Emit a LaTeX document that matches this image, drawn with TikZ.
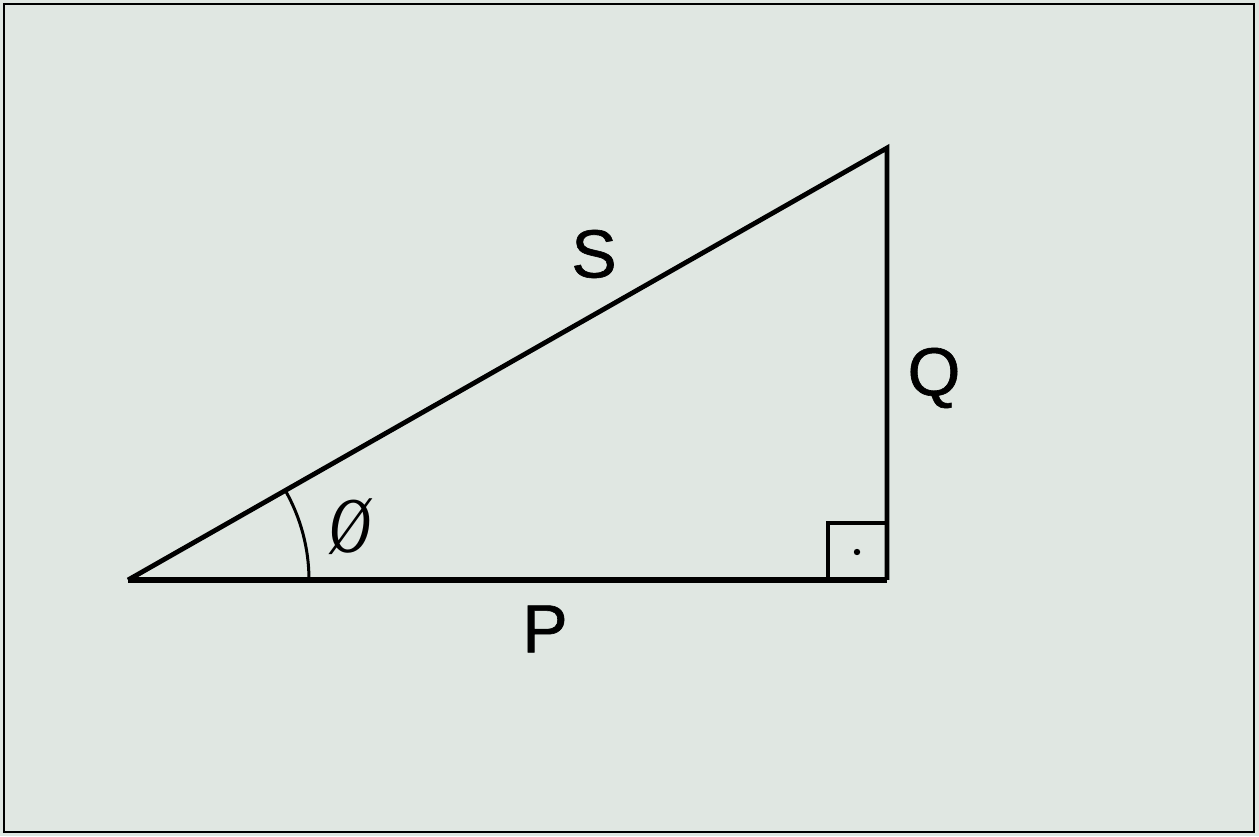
\documentclass[tikz,border=0pt]{standalone}
\usepackage{fontspec}
\setmainfont{Liberation Sans}
\newfontfamily\labelfont{Liberation Sans}[FakeBold=0.9]
\newfontfamily\phifont{Liberation Serif}
\usepackage{tikz}
\usetikzlibrary{positioning}
\definecolor{paper}{RGB}{224,231,226}

\begin{document}
\begin{tikzpicture}[
    x=0.5pt, y=0.5pt,
    side/.style={
        line width=2.4pt,
        line join=miter
    },
    base/.style={
        line width=3pt
    },
    label/.style={
        font=\labelfont\fontsize{34}{34}\selectfont,
        inner sep=0pt
    },
    angle/.style={
        line width=1.5pt
    }
]
    % --- Page and frame ---
    \fill[paper] (0,0) rectangle (1259,836);
    \useasboundingbox (0,0) rectangle (1259,836);
    \draw[line width=1pt] (4,4) rectangle (1254,832);

    % --- Corners of the power triangle ---
    \coordinate (a) at (128,256);
    \coordinate (b) at (887,256);
    \coordinate (c) at (887,688);

    % --- Sides ---
    \draw[side] (a) -- (c) -- (b);
    \draw[base] (a) -- (b);

    % --- Right angle mark ---
    \draw[line width=2.2pt] (828,256) |- (887,313);
    \fill (857,284) circle[radius=1.6pt];

    % --- Angle arc at the left corner ---
    \draw[angle] (a) ++(90.5pt,0) arc[start angle=0, end angle=29.6, radius=90.5pt];

    % --- Labels ---
    \node[label] (s)   at (594,582) {S};
    \node[label] (q)   at (934,458) {Q};
    \node[label] (p)   at (545,207) {P};
    \node[inner sep=0pt, font=\phifont\itshape\fontsize{36}{36}\selectfont] (phi) at (350,309) {\scalebox{0.8}[1.1]{Ø}};
\end{tikzpicture}
\end{document}
